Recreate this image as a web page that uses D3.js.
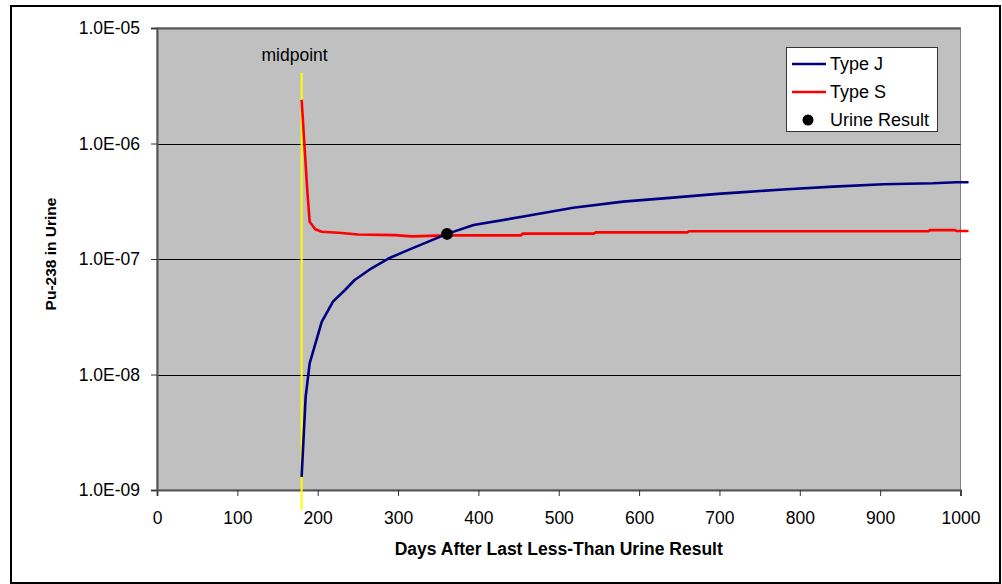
<!DOCTYPE html>
<html lang="en">
  <head>
    <meta charset="utf-8">
    <title>Pu-238 in Urine</title>
    <script src="https://cdnjs.cloudflare.com/ajax/libs/d3/7.8.5/d3.min.js"></script>
    <style>
      body {
        margin: 0;
        background: #fff;
      }
      svg text {
        font-family: Arial, "Liberation Sans", sans-serif;
        fill: #000;
      }
    </style>
  </head>
  <body>
    <script type="text/javascript">

    // values
    const typeJDays = [180, 185, 190, 205, 219, 234, 246, 267, 288, 313, 361, 394, 456, 518, 580, 642, 698, 730, 784, 842, 904, 966, 995, 1010];
    const typeJValues = [1.30e-9, 6.4e-9, 1.25e-8, 2.86e-8, 4.27e-8, 5.39e-8, 6.58e-8, 8.31e-8, 1.01e-7, 1.20e-7, 1.65e-7, 1.97e-7, 2.33e-7, 2.78e-7, 3.14e-7, 3.40e-7, 3.66e-7, 3.79e-7, 4.02e-7, 4.23e-7, 4.44e-7, 4.53e-7, 4.62e-7, 4.62e-7];

    const typeSDays = [180, 187, 190, 197, 205, 226, 250, 296, 317, 361, 453, 455, 544, 546, 660, 662, 960, 962, 993, 995, 1010];
    const typeSValues = [2.39e-6, 3.96e-7, 2.10e-7, 1.81e-7, 1.72e-7, 1.69e-7, 1.63e-7, 1.61e-7, 1.57e-7, 1.60e-7, 1.60e-7, 1.66e-7, 1.66e-7, 1.70e-7, 1.70e-7, 1.74e-7, 1.74e-7, 1.78e-7, 1.78e-7, 1.75e-7, 1.75e-7];

    const urineDay = [361];
    const urineValue = [1.65e-7];

    const midpointDay = 180;
    const midpointRange = [4.1e-6, 6.7e-10];

    const xTicks = [0, 100, 200, 300, 400, 500, 600, 700, 800, 900, 1000];
    const yTicks = [1e-9, 1e-8, 1e-7, 1e-6, 1e-5];

    const legendNames = ['Type J', 'Type S', 'Urine Result'];

    const w = 1002;
    const h = 584;
    const plot = {left: 157, top: 28, right: 960.5, bottom: 490};
    const fontSize = 17.5;

    const svg = d3.select('body')
                  .append('svg')
                  .attr('width', w)
                  .attr('height', h);

    // outer chart border
    svg.append('rect')
       .attr('x', 11)
       .attr('y', 6)
       .attr('width', 989)
       .attr('height', 577)
       .attr('fill', '#fff')
       .attr('stroke', '#000')
       .attr('stroke-width', 2);

    const xScale = d3.scaleLinear()
                     .domain([0, 1000])
                     .range([plot.left, plot.right]);

    const yScale = d3.scaleLog()
                     .domain([1e-9, 1e-5])
                     .range([plot.bottom, plot.top]);

    const fmtExp = function (d) {
      const e = Math.round(Math.log10(d));
      return '1.0E' + (e < 0 ? '-' : '+') + String(Math.abs(e)).padStart(2, '0');
    };

    // plot area
    svg.append('rect')
       .attr('x', plot.left)
       .attr('y', plot.top)
       .attr('width', plot.right - plot.left)
       .attr('height', plot.bottom - plot.top)
       .attr('fill', '#c0c0c0')
       .attr('stroke', '#808080')
       .attr('stroke-width', 1);

    // gridlines
    svg.append('g')
       .selectAll('line')
       .data(yTicks.slice(1))
       .enter()
       .append('line')
       .attr('x1', plot.left)
       .attr('x2', plot.right)
       .attr('y1', d => Math.round(yScale(d)) + 0.5)
       .attr('y2', d => Math.round(yScale(d)) + 0.5)
       .attr('stroke', (d, i) => i == yTicks.length - 2 ? '#555' : '#000')
       .attr('stroke-width', (d, i) => i == yTicks.length - 2 ? 2 : 1);

    const xAxis = d3.axisBottom(xScale)
                    .tickValues(xTicks)
                    .tickSize(6)
                    .tickPadding(16)
                    .tickFormat(d3.format('d'));

    const yAxis = d3.axisLeft(yScale)
                    .tickValues(yTicks)
                    .tickSize(6)
                    .tickPadding(11)
                    .tickFormat(fmtExp);

    const gx = svg.append('g')
       .attr('id', 'x-axis')
       .attr('transform', 'translate(0,' + plot.bottom + ')')
       .call(xAxis);

    const gy = svg.append('g')
       .attr('id', 'y-axis')
       .attr('transform', 'translate(' + plot.left + ',0)')
       .call(yAxis);

    [gx, gy].forEach(function (g) {
      g.select('.domain').attr('stroke', '#555').attr('stroke-width', 2);
      g.selectAll('.tick line').attr('stroke', '#333');
      g.selectAll('.tick text')
       .attr('font-size', fontSize)
       .attr('fill', '#000');
    });

    // midpoint marker
    svg.append('line')
       .attr('x1', xScale(midpointDay))
       .attr('x2', xScale(midpointDay))
       .attr('y1', yScale(midpointRange[0]))
       .attr('y2', yScale(midpointRange[1]))
       .attr('stroke', '#ffff00')
       .attr('stroke-width', 2);

    svg.append('text')
       .attr('x', xScale(midpointDay) - 7)
       .attr('y', 61)
       .attr('text-anchor', 'middle')
       .attr('font-size', fontSize)
       .text('midpoint');

    const line = d3.line()
                   .x(d => xScale(d[0]))
                   .y(d => yScale(d[1]));

    svg.append('path')
       .datum(typeSDays.map((d, i) => [d, typeSValues[i]]))
       .attr('d', line)
       .attr('fill', 'none')
       .attr('stroke', '#ff0000')
       .attr('stroke-width', 2.6)
       .attr('stroke-linejoin', 'round');

    svg.append('path')
       .datum(typeJDays.map((d, i) => [d, typeJValues[i]]))
       .attr('d', line)
       .attr('fill', 'none')
       .attr('stroke', '#000080')
       .attr('stroke-width', 2.6)
       .attr('stroke-linejoin', 'round');

    svg.selectAll('circle.result')
       .data(urineDay)
       .enter()
       .append('circle')
       .attr('class', 'result')
       .attr('cx', d => xScale(d))
       .attr('cy', (d, i) => yScale(urineValue[i]))
       .attr('r', 6)
       .attr('fill', '#000');

    // axis titles
    svg.append('text')
       .attr('x', (plot.left + plot.right) / 2)
       .attr('y', 555)
       .attr('text-anchor', 'middle')
       .attr('font-size', fontSize)
       .attr('font-weight', 'bold')
       .text('Days After Last Less-Than Urine Result');

    svg.append('text')
       .attr('transform', 'translate(55.5,254) rotate(-90)')
       .attr('text-anchor', 'middle')
       .attr('font-size', 15.5)
       .attr('font-weight', 'bold')
       .text('Pu-238 in Urine');

    // legend
    const legend = svg.append('g')
                      .attr('transform', 'translate(786,47)');

    legend.append('rect')
          .attr('x', 0.5)
          .attr('y', 0.5)
          .attr('width', 151)
          .attr('height', 84)
          .attr('fill', '#fff')
          .attr('stroke', '#333');

    const legendColors = ['#000080', '#ff0000', '#000'];

    legendNames.forEach(function (name, i) {
      const cy = 17 + i * 28;
      if (i < 2) {
        legend.append('line')
              .attr('x1', 6)
              .attr('x2', 40)
              .attr('y1', cy)
              .attr('y2', cy)
              .attr('stroke', legendColors[i])
              .attr('stroke-width', 2.6);
      } else {
        legend.append('circle')
              .attr('cx', 22)
              .attr('cy', cy)
              .attr('r', 5.5)
              .attr('fill', legendColors[i]);
      }
      legend.append('text')
            .attr('x', 44)
            .attr('y', cy)
            .attr('dy', '0.36em')
            .attr('font-size', 18)
            .text(name);
    });

    </script>
  </body>
</html>
